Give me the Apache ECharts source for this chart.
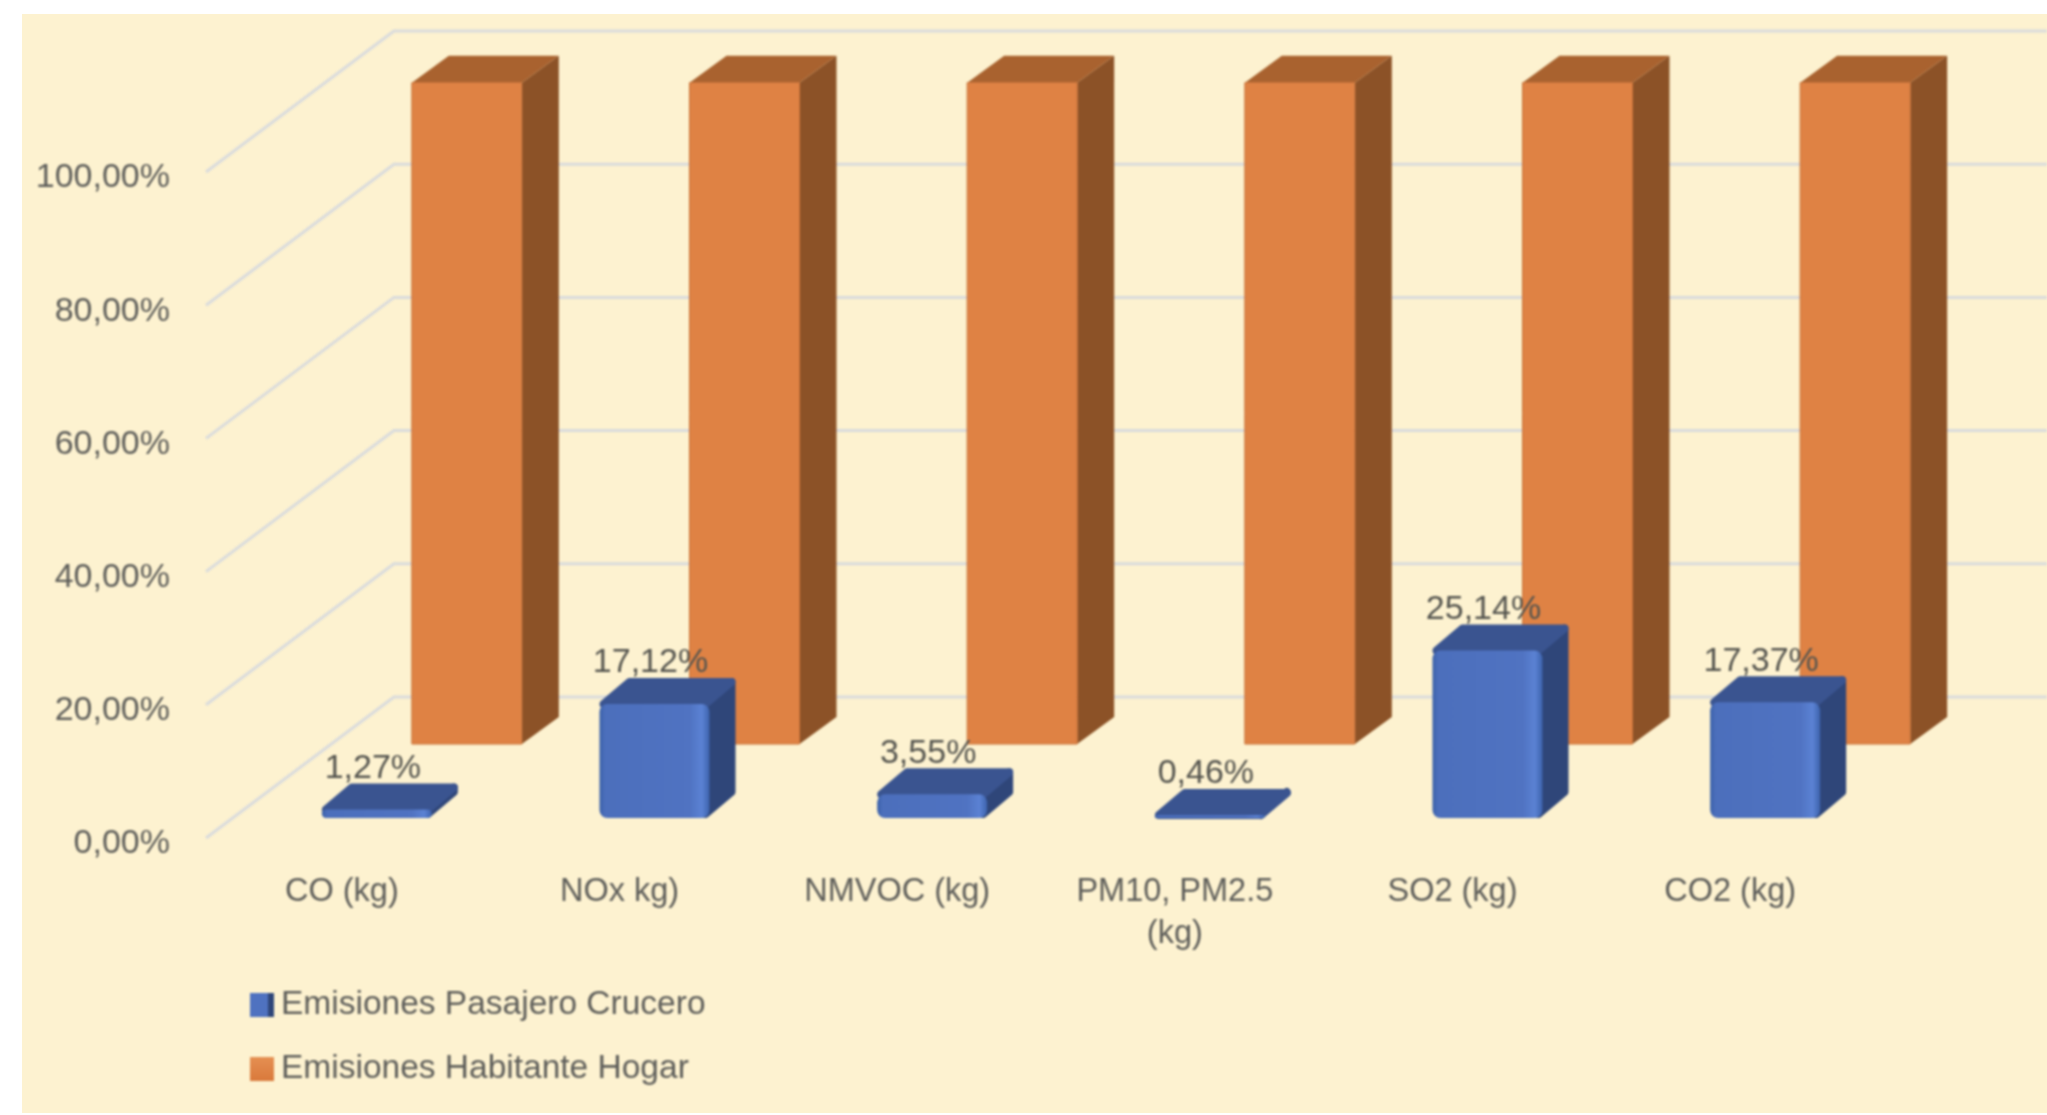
<!DOCTYPE html>
<html>
<head>
<meta charset="utf-8">
<title>Emisiones</title>
<script src="https://cdn.jsdelivr.net/npm/echarts@6/dist/echarts.min.js"></script>
<style>
  html, body { margin: 0; height: 100%; background: #fff; overflow: hidden; }
  .panel { position: absolute; left: 22px; top: 14px; right: 0; bottom: 2px; background: #fdf2d0; }
  #chart { position: absolute; left: 0; top: 0; width: 2047px; height: 1115px; filter: blur(0.8px); }
</style>
</head>
<body>
<div class="panel"></div>
<div id="chart"></div>
<script>
// valores
const categories = ['CO (kg)', 'NOx kg)', 'NMVOC (kg)', 'PM10, PM2.5\n(kg)', 'SO2 (kg)', 'CO2 (kg)'];
const pasajeroValues = [1.27, 17.12, 3.55, 0.46, 25.14, 17.37];
const hogarValues = [99.3, 99.3, 99.3, 99.3, 99.3, 99.3];
const yTicks = [0, 20, 40, 60, 80, 100];
const seriesNames = ['Emisiones Pasajero Crucero', 'Emisiones Habitante Hogar'];

const FONT = '"Liberation Sans", Arial, sans-serif';
const TEXT_COLOR = '#5e5e5a';

const fmtPct = v => v.toFixed(2).replace('.', ',') + '%';
const chart = echarts.init(document.getElementById('chart'));

// paredes: linea inclinada del suelo + linea horizontal del fondo
const renderWall = (params, api) => {
  const y = api.coord([0, api.value(1)])[1];
  const x0 = params.coordSys.x + 3;
  return {
    type: 'polyline',
    shape: { points: [[x0, y], [x0 + 188, y - 141], [2060, y - 141]] },
    style: { stroke: '#d9dbdc', lineWidth: 3, fill: null },
    silent: true
  };
};

const renderHogar = (params, api) => {
  const c = api.coord([api.value(0), api.value(1)]);
  const base = api.coord([api.value(0), 0]);
  const l = c[0] + 70, r = l + 110;
  const b = base[1] - 94, t = c[1] - 94;
  const dx = 37, dy = -27;
  return {
    type: 'group',
    children: [
      { type: 'polygon', shape: { points: [[r, b], [r + dx, b + dy], [r + dx, t + dy], [r, t]] }, style: { fill: '#8c5227' } },
      { type: 'polygon', shape: { points: [[l, t], [l + dx, t + dy], [r + dx, t + dy], [r, t]] }, style: { fill: '#a9622f' } },
      { type: 'rect', shape: { x: l, y: t, width: r - l, height: b - t }, style: { fill: '#df8244', stroke: '#c9733a', lineWidth: 1 } }
    ]
  };
};

const renderPasajero = (params, api) => {
  const val = api.value(1);
  const c = api.coord([api.value(0), val]);
  const base = api.coord([api.value(0), 0]);
  const l = c[0] - 20, r = l + 110;
  const b = base[1] - 20, t = c[1] - 20;
  const dx = 26, dy = -26, ins = 4;
  const face = new echarts.graphic.LinearGradient(0, 0, 1, 0, [
    { offset: 0, color: '#3a60a8' },
    { offset: 0.05, color: '#4c6fbc' },
    { offset: 0.82, color: '#5073c2' },
    { offset: 0.93, color: '#5b82d4' },
    { offset: 1, color: '#3d63ad' }
  ]);
  return {
    type: 'group',
    children: [
      { type: 'polygon', shape: { points: [[r - ins, b - ins], [r + dx - ins, b + dy], [r + dx - ins, t + dy + ins], [r - ins, t]] },
        style: { fill: '#2f4679', stroke: '#2f4679', lineWidth: 8, lineJoin: 'round' } },
      { type: 'polygon', shape: { points: [[l + ins, t], [l + dx + ins, t + dy + ins], [r + dx - ins, t + dy + ins], [r - ins, t]] },
        style: { fill: '#3a5490', stroke: '#3a5490', lineWidth: 8, lineJoin: 'round' } },
      { type: 'rect', shape: { x: l, y: t, width: r - l, height: b - t, r: Math.min(8, (b - t) / 2) }, style: { fill: face } },
      { type: 'text', style: { text: fmtPct(val), x: (l + r) / 2 - 4, y: t - 41, align: 'center', verticalAlign: 'middle',
        fill: '#55554f', fontSize: 34, fontFamily: FONT } }
    ]
  };
};

const option = {
  animation: false,
  grid: { left: 203, top: 172, width: 1666, height: 666 },
  xAxis: {
    type: 'category',
    data: categories,
    axisLine: { show: false },
    axisTick: { show: false },
    axisLabel: { interval: 0, margin: 33, color: TEXT_COLOR, fontSize: 32.5, lineHeight: 42, fontFamily: FONT }
  },
  yAxis: {
    type: 'value',
    min: 0,
    max: 100,
    interval: 20,
    axisLine: { show: false },
    axisTick: { show: false },
    splitLine: { show: false },
    // etiquetas un poco por debajo de la linea, como en el original
    axisLabel: { margin: 33, color: TEXT_COLOR, fontSize: 34, fontFamily: FONT, verticalAlign: 'top', lineHeight: 12, formatter: v => fmtPct(v) }
  },
  legend: {
    left: 245,
    top: 983,
    orient: 'vertical',
    itemWidth: 24,
    itemHeight: 24,
    itemGap: 30,
    textStyle: { color: TEXT_COLOR, fontSize: 33.5, fontFamily: FONT, padding: [0, 0, 0, 2] },
    data: [
      { name: seriesNames[0], icon: 'rect', itemStyle: { color: new echarts.graphic.LinearGradient(0, 0, 1, 0, [
        { offset: 0, color: '#4f72c0' }, { offset: 0.75, color: '#4f72c0' }, { offset: 0.76, color: '#2f4679' }, { offset: 1, color: '#2f4679' }
      ]) } },
      { name: seriesNames[1], icon: 'rect', itemStyle: { color: new echarts.graphic.LinearGradient(0, 0, 0, 1, [
        { offset: 0, color: '#e58f52' }, { offset: 1, color: '#d9793b' }
      ]) } }
    ]
  },
  series: [
    {
      type: 'custom',
      name: 'pared',
      silent: true,
      renderItem: renderWall,
      encode: { x: 0, y: 1 },
      data: yTicks.map(v => [0, v]),
      z: 1
    },
    {
      type: 'custom',
      name: seriesNames[1],
      renderItem: renderHogar,
      encode: { x: 0, y: 1 },
      itemStyle: { color: '#df8244' },
      data: hogarValues.map((v, i) => [i, v]),
      z: 2
    },
    {
      type: 'custom',
      name: seriesNames[0],
      renderItem: renderPasajero,
      encode: { x: 0, y: 1 },
      itemStyle: { color: '#4f72c0' },
      data: pasajeroValues.map((v, i) => [i, v]),
      z: 3
    }
  ]
};

chart.setOption(option);
</script>
</body>
</html>
